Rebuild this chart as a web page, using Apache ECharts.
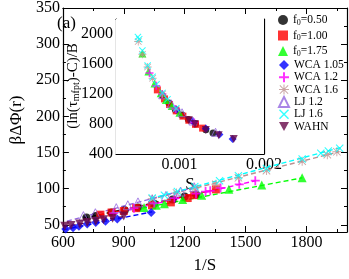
<!DOCTYPE html>
<html><head><meta charset="utf-8">
<script src="https://cdn.jsdelivr.net/npm/echarts@6/dist/echarts.min.js"></script>
<style>html,body{margin:0;padding:0;background:#fff}#c{width:349px;height:279px}</style>
</head><body><div id="c"></div>
<script>
// ---------- data ----------
const names = ['f0=0.50','f0=1.00','f0=1.75','WCA 1.05','WCA 1.2','WCA 1.6','LJ 1.2','LJ 1.6','WAHN'];
// main panel: [1/S, beta*dPhi]
const mainF050 = [[716,60],[762,62],[840,67],[905,70],[970,74],[1050,79],[1141,85],[1200,89],[1256,92]];
const mainF100 = [[785,64],[840,67],[900,69],[961,73],[1039,77],[1132,81],[1215,87],[1247,91],[1354,99]];
const mainF175 = [[1000,74],[1060,77],[1100,79],[1190,85],[1284,91],[1418,99],[1580,105],[1779,115]];
const mainWCA105 = [[614,44],[650,46],[679,48],[720,51],[762,53],[810,55],[868,58],[1035,67]];
const mainWCA12 = [[850,66],[950,73],[1050,80],[1150,87],[1256,93],[1303,96],[1326,97],[1377,101],[1469,106],[1548,111]];
const mainWCA16 = [[1040,86],[1160,94],[1250,100],[1354,106],[1465,115],[1603,125],[1779,138],[1903,147],[1950,151]];
const mainLJ12 = [[701,62],[760,66],[863,73],[920,77],[970,81],[1040,85],[1108,90],[1180,96],[1247,102]];
const mainLJ16 = [[1040,87],[1100,91],[1164,96],[1250,103],[1372,111],[1465,118],[1603,128],[1779,141],[1871,149],[1908,152],[1964,156]];
const mainWAHN = [[609,48],[640,49],[683,51],[720,53],[762,55],[800,57],[845,59],[900,62]];
// fitted dashed lines: [start],[end]
const fitF050 = [[700,59],[1260,93]];
const fitF100 = [[780,63],[1360,99]];
const fitF175 = [[990,73],[1780,115]];
const fitWCA105 = [[600,43],[1040,68]];
const fitWCA12 = [[840,65],[1550,111]];
const fitWCA16 = [[1030,85],[1960,151]];
const fitLJ12 = [[620,55],[1250,102]];
const fitLJ16 = [[1030,86],[1970,157]];
const fitWAHN = [[600,47],[910,62]];
// inset: [S, (ln(tau)-C)/B]
const insF050 = [[0.001397,680],[0.001312,725],[0.00119,800],[0.001105,860],[0.001031,920],[0.000952,990],[0.000876,1080],[0.000796,1180]];
const insF100 = [[0.001274,745],[0.00119,795],[0.001111,850],[0.001041,905],[0.000962,975],[0.000883,1060],[0.000823,1135],[0.000739,1255]];
const insF175 = [[0.001,950],[0.000909,1040],[0.00084,1120],[0.000779,1210],[0.000705,1340],[0.000633,1500],[0.000562,1740]];
const insWCA105 = [[0.001629,600],[0.001473,660],[0.001312,740],[0.001152,840],[0.000966,990]];
const insWCA12 = [[0.001176,820],[0.000952,1000],[0.000796,1200],[0.000726,1310],[0.000646,1480]];
const insWCA16 = [[0.000962,1000],[0.0008,1200],[0.000683,1410],[0.000624,1560],[0.000562,1730],[0.000513,1900]];
const insLJ12 = [[0.001427,690],[0.001159,840],[0.001031,950],[0.000903,1070],[0.000802,1190]];
const insLJ16 = [[0.000962,1010],[0.000859,1130],[0.0008,1215],[0.000729,1330],[0.000683,1430],[0.000624,1580],[0.000562,1780],[0.000524,1930],[0.000509,1960]];
const insWAHN = [[0.001642,600],[0.001464,650],[0.001312,720],[0.001183,800],[0.001111,850]];
// ticks
const xMajor = [600,900,1200,1500,1800];
const xMinor = [750,1050,1350,1650,1950];
const yMajor = [50,100,150,200,250,300,350];
const yMinor = [75,125,175,225,275,325];
const insXLabels = [0.001,0.002];
const insXMajor = [0.001,0.002];
const insXMinor = [0.0005,0.0015];
const insYMajor = [400,800,1200,1600,2000];
const insYMinor = [600,1000,1400,1800];

// ---------- styling ----------
const FF = 'Liberation Serif';
const PLUS = 'path://M4,0H6V4H10V6H6V10H4V6H0V4H4Z';
const CROSS = 'path://M1,0L5,4L9,0L10,1L6,5L10,9L9,10L5,6L1,10L0,9L4,5L0,1Z';
const STAR = 'path://M4.5,0H5.5V4.5H10V5.5H5.5V10H4.5V5.5H0V4.5H4.5Z M1.2,0.5L5,4.3L8.8,0.5L9.5,1.2L5.7,5L9.5,8.8L8.8,9.5L5,5.7L1.2,9.5L0.5,8.8L4.3,5L0.5,1.2Z';
const DOWN = 'path://M0,0L10,0L5,9Z';
const styles = [
  {color:'#000000', symbol:'circle', size:8},
  {color:'#ff0000', symbol:'rect', size:8},
  {color:'#00ff00', symbol:'triangle', size:9},
  {color:'#0000ff', symbol:'diamond', size:9},
  {color:'#ff00ff', symbol:PLUS, size:9},
  {color:'#bc8f8f', symbol:STAR, size:9},
  {color:'#9467e0', symbol:'triangle', size:9, open:true},
  {color:'#00ffff', symbol:CROSS, size:8},
  {color:'#670748', symbol:DOWN, size:9}
];
const mainData = [mainF050,mainF100,mainF175,mainWCA105,mainWCA12,mainWCA16,mainLJ12,mainLJ16,mainWAHN];
const fitData = [fitF050,fitF100,fitF175,fitWCA105,fitWCA12,fitWCA16,fitLJ12,fitLJ16,fitWAHN];
const insData = [insF050,insF100,insF175,insWCA105,insWCA12,insWCA16,insLJ12,insLJ16,insWAHN];

function itemStyleOf(s){
  return s.open ? {color:'rgba(255,255,255,0)', borderColor:s.color, borderWidth:1} : {color:s.color};
}
const series = [];
names.forEach((n,i)=>{
  const s = styles[i];
  series.push({type:'line', name:'fit '+n, xAxisIndex:0, yAxisIndex:0, data:fitData[i], showSymbol:false, silent:true,
    lineStyle:{color:s.color, width:1.4, type:[5,3]}, z:2, animation:false});
});
names.forEach((n,i)=>{
  const s = styles[i];
  series.push({type:'scatter', name:n, xAxisIndex:0, yAxisIndex:0, data:mainData[i], symbol:s.symbol, symbolSize:s.size,
    itemStyle:itemStyleOf(s), z:3, animation:false});
});
names.forEach((n,i)=>{
  const s = styles[i];
  series.push({type:'scatter', name:n, xAxisIndex:4, yAxisIndex:4, data:insData[i], symbol:s.symbol, symbolSize:s.size-1,
    itemStyle:itemStyleOf(s), z:3, animation:false});
});

function tickAxis(grid, pos, min, max, vals, len, line){
  return {type:'value', gridIndex:grid, position:pos, offset:0, min:min, max:max,
    axisLine:{show:!!line, onZero:false, lineStyle:{color:'#000', width:1.2}},
    axisLabel:{show:false}, splitLine:{show:false},
    axisTick:{show:true, inside:true, length:len, customValues:vals, lineStyle:{color:'#000', width:1}}};
}
const lab = {fontFamily:FF, fontSize:16, color:'#000'};
const plain = v => String(v);

const xAxis = [
  Object.assign(tickAxis(0,'bottom',600,2000,xMajor,6,true), {
    axisLabel:{show:true, customValues:xMajor, margin:3, formatter:plain, ...lab},
    name:'1/S', nameLocation:'middle', nameGap:25, nameTextStyle:{fontFamily:FF, fontSize:17, color:'#000'}}),
  tickAxis(0,'bottom',600,2000,xMinor,3,false),
  tickAxis(0,'top',600,2000,xMajor,6,true),
  tickAxis(0,'top',600,2000,xMinor,3,false),
  Object.assign(tickAxis(1,'bottom',0.00025,0.002,insXMajor,5,true), {
    axisLabel:{show:true, customValues:insXLabels, margin:3, formatter:v=>v.toFixed(3), ...lab},
    name:'S', nameLocation:'middle', nameGap:22, nameTextStyle:{fontFamily:FF, fontSize:17, color:'#000'}}),
  tickAxis(1,'bottom',0.00025,0.002,insXMinor,5,false),
  tickAxis(1,'top',0.00025,0.002,insXMajor,5,true),
  tickAxis(1,'top',0.00025,0.002,insXMinor,5,false)
];
const yAxis = [
  Object.assign(tickAxis(0,'left',40,350,yMajor,6,true), {
    axisLabel:{show:true, customValues:yMajor, margin:3, formatter:plain, ...lab},
    name:'βΔΦ(r)', nameLocation:'middle', nameGap:34, nameTextStyle:{fontFamily:FF, fontSize:17, color:'#000'}}),
  tickAxis(0,'left',40,350,yMinor,3,false),
  tickAxis(0,'right',40,350,yMajor,6,true),
  tickAxis(0,'right',40,350,yMinor,3,false),
  Object.assign(tickAxis(1,'left',400,2200,insYMajor,5,true), {
    axisLabel:{show:true, customValues:insYMajor, margin:3, formatter:plain, ...lab}}),
  tickAxis(1,'left',400,2200,insYMinor,3,false),
  tickAxis(1,'right',400,2200,insYMajor,5,true),
  tickAxis(1,'right',400,2200,insYMinor,3,false)
];

const legendText = {fontFamily:FF, fontSize:11.5, color:'#000',
  rich:{m:{fontFamily:FF, fontSize:11.5, color:'#000'}, s:{fontFamily:FF, fontSize:8, color:'#000', padding:[5,0,0,0]}}};
const option = {
  animation:false,
  backgroundColor:'#fff',
  title:{text:'(a)', left:52, top:10, textStyle:{fontFamily:FF, fontSize:17, fontWeight:'normal', color:'#000'}},
  graphic:[{
    type:'text', x:73, y:86, z:10, rotation:Math.PI/2,
    style:{text:'{m|(ln(τ}{s|mfpt}{m|)-C)/B}', fill:'#000', align:'center', verticalAlign:'middle',
      rich:{m:{fontFamily:FF, fontSize:15, fill:'#000'}, s:{fontFamily:FF, fontSize:10, fill:'#000', padding:[6,0,0,0]}}}
  }],
  grid:[
    {left:45, top:6, width:302, height:243, show:false},
    {left:116, top:19, width:148, height:135, show:true, backgroundColor:'#fff', borderColor:'#000', borderWidth:0, z:1}
  ],
  legend:[
    {data:names.slice(0,3), orient:'vertical', left:273, top:9, itemWidth:10, itemHeight:10, itemGap:3,
      formatter:n=>'{m|f}{s|0}{m|'+n.slice(2)+'}', textStyle:legendText, selectedMode:false},
    {data:names.slice(3), orient:'vertical', left:273, top:54, itemWidth:10, itemHeight:10, itemGap:0.3,
      textStyle:{fontFamily:FF, fontSize:11.5, color:'#000', lineHeight:10}, selectedMode:false}
  ],
  xAxis:xAxis, yAxis:yAxis, series:series
};
const chart = echarts.init(document.getElementById('c'), null, {renderer:'canvas'});
chart.setOption(option);
</script></body></html>
